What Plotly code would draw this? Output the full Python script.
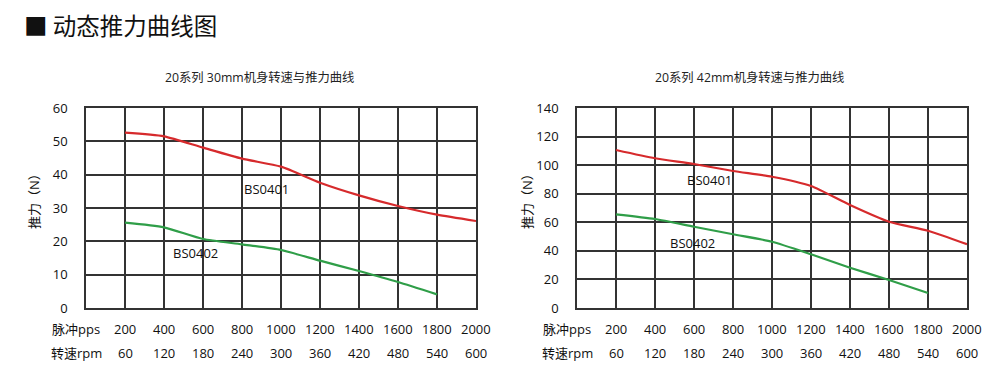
import plotly.graph_objects as go

# Page body has an 8px default margin; the figure fills the rest of the 1000x366 window.
OFF = 8
W, H = 1000 - OFF, 366 - OFF

pps = [200, 400, 600, 800, 1000, 1200, 1400, 1600, 1800, 2000]
rpm = [60, 120, 180, 240, 300, 360, 420, 480, 540, 600]

# 30mm chart
l_bs0401_x = [200, 400, 600, 800, 1000, 1200, 1400, 1600, 1800, 2000]
l_bs0401_y = [52.6, 51.5, 48.1, 44.8, 42.4, 37.6, 33.8, 30.6, 28.0, 26.1]
l_bs0402_x = [200, 400, 600, 800, 1000, 1200, 1400, 1600, 1800]
l_bs0402_y = [25.6, 24.2, 20.7, 19.1, 17.4, 14.2, 11.1, 7.8, 4.1]

# 42mm chart
r_bs0401_x = [200, 400, 600, 800, 1000, 1200, 1400, 1600, 1800, 2000]
r_bs0401_y = [110.6, 104.8, 100.8, 95.9, 91.9, 85.4, 72.1, 60.4, 54.1, 44.6]
r_bs0402_x = [200, 400, 600, 800, 1000, 1200, 1400, 1600, 1800]
r_bs0402_y = [65.6, 62.3, 56.9, 51.6, 46.4, 37.6, 28.2, 19.6, 10.5]

left_yticks = [0, 10, 20, 30, 40, 50, 60]
right_yticks = [0, 20, 40, 60, 80, 100, 120, 140]

page_title = "■ 动态推力曲线图"
left_title = "20系列 30mm机身转速与推力曲线"
right_title = "20系列 42mm机身转速与推力曲线"
y_title = "推力（N）"
row1_label = "脉冲pps"
row2_label = "转速rpm"

RED = "#d62a2c"
GREEN = "#2f9e48"
GRID = "#333333"
FONT = "Open Sans, Noto Sans CJK SC, sans-serif"
CJK = "Noto Sans CJK SC, sans-serif"


def px(x):
    return (x - OFF) / W


def py(y):
    return 1 - (y - OFF) / H


def ann(x, y, text, size=13, xref="paper", yref="paper", **kw):
    d = dict(x=x, y=y, xref=xref, yref=yref, text=text, showarrow=False,
             xanchor="center", yanchor="middle",
             font=dict(family=FONT, size=size, color="#111"))
    d.update(kw)
    return d


fig = go.Figure()

panels = [
    dict(xa="x", ya="y", xl=86, ymax=60, yticks=left_yticks,
         s1=(l_bs0401_x, l_bs0401_y), s2=(l_bs0402_x, l_bs0402_y),
         lab1=(928, 35.7), lab2=(564, 16.5), title=left_title, tx=259, ylx=34),
    dict(xa="x2", ya="y2", xl=577, ymax=140, yticks=right_yticks,
         s1=(r_bs0401_x, r_bs0401_y), s2=(r_bs0402_x, r_bs0402_y),
         lab1=(682, 89.6), lab2=(590, 45.7), title=right_title, tx=749, ylx=527),
]

annotations = []
for p in panels:
    fig.add_trace(go.Scatter(x=p["s1"][0], y=p["s1"][1], mode="lines",
                             line=dict(color=RED, width=2.2, shape="spline", smoothing=0.6),
                             xaxis=p["xa"], yaxis=p["ya"], showlegend=False, hoverinfo="skip"))
    fig.add_trace(go.Scatter(x=p["s2"][0], y=p["s2"][1], mode="lines",
                             line=dict(color=GREEN, width=2.2, shape="spline", smoothing=0.6),
                             xaxis=p["xa"], yaxis=p["ya"], showlegend=False, hoverinfo="skip"))
    annotations.append(ann(p["lab1"][0], p["lab1"][1], "BS0401", xref=p["xa"], yref=p["ya"]))
    annotations.append(ann(p["lab2"][0], p["lab2"][1], "BS0402", xref=p["xa"], yref=p["ya"]))
    annotations.append(ann(px(p["tx"]), py(78), p["title"],
                           font=dict(family=FONT, size=12.3, color="#222")))
    annotations.append(ann(px(p["ylx"]), py(198), y_title, textangle=-90))
    for v, r in zip(pps, rpm):
        annotations.append(ann(v, py(329), str(v), xref=p["xa"]))
        annotations.append(ann(v, py(353), str(r), xref=p["xa"]))
    annotations.append(ann(px(p["xl"] - 10), py(329), row1_label))
    annotations.append(ann(px(p["xl"] - 10), py(353), row2_label))

annotations.append(ann(px(22), py(25), page_title, xanchor="left",
                       font=dict(family=CJK, size=23.5, color="#111")))

axis_x = dict(range=[0, 2000], dtick=200, tick0=0, showticklabels=False, automargin=False,
              showgrid=True, gridcolor=GRID, gridwidth=1.5, zeroline=False,
              showline=True, linecolor=GRID, linewidth=1.5, mirror=True, fixedrange=True)
axis_y = dict(showgrid=True, gridcolor=GRID, gridwidth=1.5, zeroline=False, automargin=False,
              showline=True, linecolor=GRID, linewidth=1.5, mirror=True, ticks="",
              ticklabelstandoff=14, tickfont=dict(family=FONT, size=13, color="#111"),
              fixedrange=True)

fig.update_layout(
    template="none",
    autosize=False,
    width=W, height=H,
    margin=dict(l=0, r=0, t=0, b=0, pad=0),
    paper_bgcolor="white", plot_bgcolor="white",
    xaxis=dict(domain=[px(86), px(476)], anchor="y", **axis_x),
    yaxis=dict(domain=[py(308), py(108)], anchor="x", range=[0, 60], tickvals=left_yticks, **axis_y),
    xaxis2=dict(domain=[px(577), px(967)], anchor="y2", **axis_x),
    yaxis2=dict(domain=[py(308), py(108)], anchor="x2", range=[0, 140], tickvals=right_yticks, **axis_y),
    annotations=annotations,
    font=dict(family=FONT),
)

fig.write_html("out.html", config={"displayModeBar": False, "responsive": False})
